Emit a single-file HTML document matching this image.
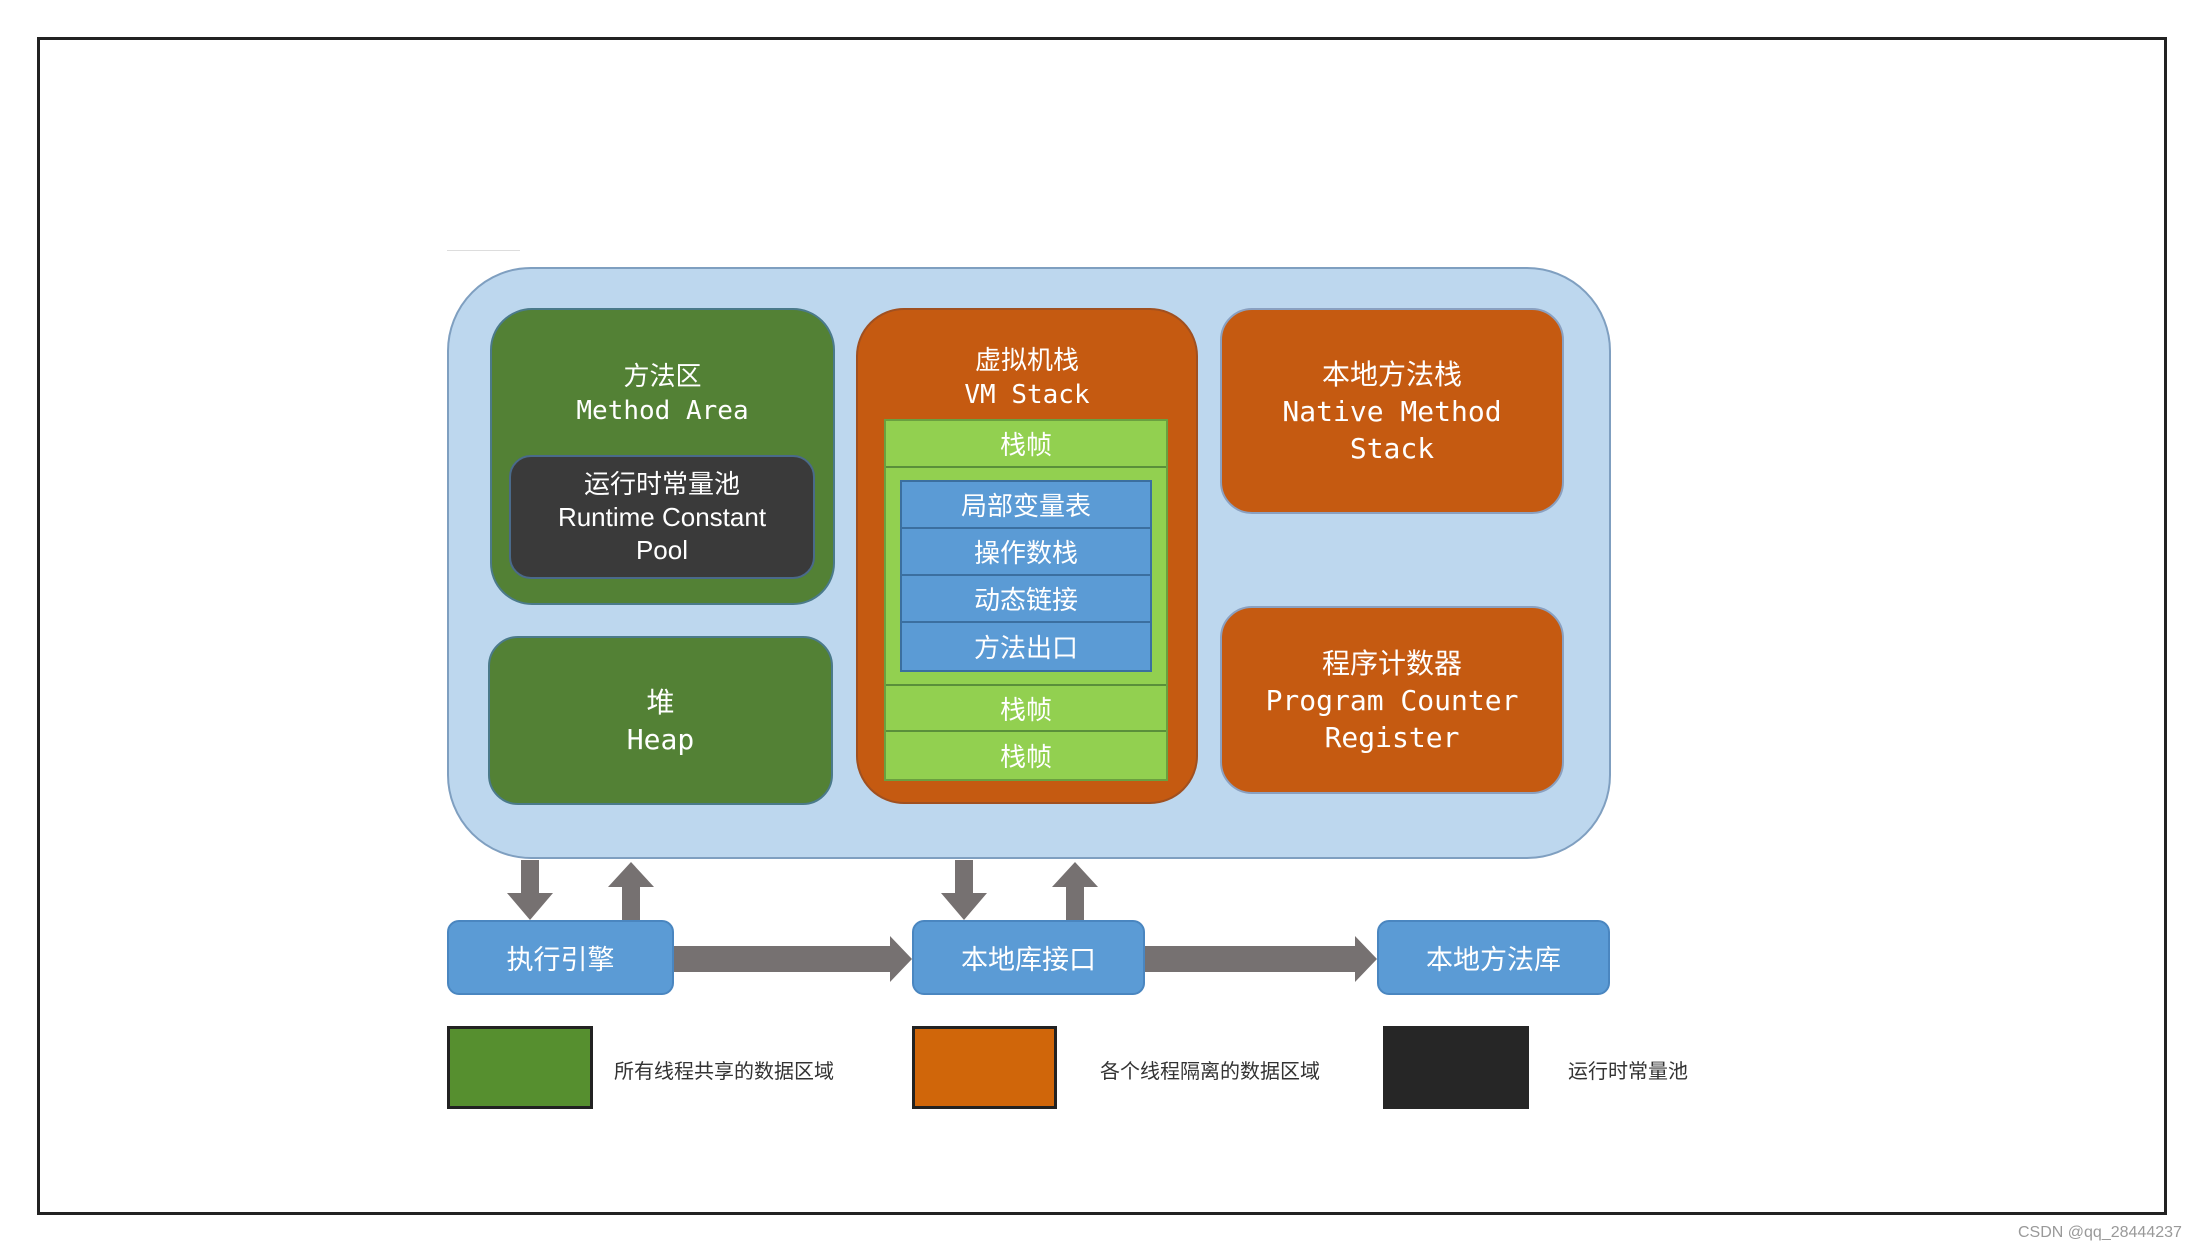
<!DOCTYPE html>
<html><head><meta charset="utf-8"><style>
body{margin:0;width:2203px;height:1252px;background:#fff;position:relative;overflow:hidden;font-family:"Liberation Sans","Noto Sans CJK SC",sans-serif}
div{position:absolute;box-sizing:border-box}
.c{display:flex;align-items:center;justify-content:center;text-align:center;color:#fff;flex-direction:column}
.m{font-family:"DejaVu Sans Mono","Liberation Mono","Noto Sans CJK SC",monospace}
.row{left:0;width:100%;height:47px;border-bottom:2px solid #5a8f3a;font-size:26px}
.brow{left:0;width:100%;height:47px;border-bottom:2px solid #3b6fa0;font-size:26px}
.lt{font-size:20px;color:#333}
</style></head><body>
<div style="left:37px;top:37px;width:2130px;height:1178px;border:3px solid #222"></div>
<div style="left:447px;top:250px;width:73px;height:1px;background:#ddd"></div>
<div style="left:447px;top:267px;width:1164px;height:592px;background:#bdd7ee;border:2px solid #7f9fc0;border-radius:84px"></div>

<div class="c m" style="left:490px;top:308px;width:345px;height:297px;background:#538135;border:2px solid #4b7a8a;border-radius:42px;justify-content:flex-start;padding-top:50px;font-size:26px;line-height:34px">方法区<br>Method Area</div>
<div class="c" style="left:509px;top:455px;width:306px;height:124px;background:#3a3a3a;border:2px solid #4a6a8a;border-radius:22px;font-size:26px;line-height:33px">运行时常量池<br>Runtime Constant<br>Pool</div>

<div class="c m" style="left:488px;top:636px;width:345px;height:169px;background:#538135;border:2px solid #4b7a8a;border-radius:30px;font-size:28px;line-height:37px">堆<br>Heap</div>

<div class="c m" style="left:856px;top:308px;width:342px;height:496px;background:#c55a11;border:2px solid #a05020;border-radius:48px;justify-content:flex-start;padding-top:34px;font-size:26px;line-height:34px">虚拟机栈<br>VM Stack</div>
<div style="left:884px;top:419px;width:284px;height:362px;background:#92d050;border:2px solid #6aa040">
 <div class="c row" style="top:0">栈帧</div>
 <div style="left:14px;top:59px;width:252px;height:192px;background:#5b9bd5;border:2px solid #3b6fa0">
  <div class="c brow" style="top:0">局部变量表</div>
  <div class="c brow" style="top:47px">操作数栈</div>
  <div class="c brow" style="top:94px">动态链接</div>
  <div class="c brow" style="top:141px;border:none">方法出口</div>
 </div>
 <div class="c row" style="top:263px;border-top:2px solid #5a8f3a;height:48px">栈帧</div>
 <div class="c row" style="top:311px;border:none">栈帧</div>
</div>

<div class="c m" style="left:1220px;top:308px;width:344px;height:206px;background:#c55a11;border:2px solid #8aa0c0;border-radius:32px;font-size:28px;line-height:37px">本地方法栈<br>Native Method<br>Stack</div>
<div class="c m" style="left:1220px;top:606px;width:344px;height:188px;background:#c55a11;border:2px solid #8aa0c0;border-radius:32px;font-size:28px;line-height:37px">程序计数器<br>Program Counter<br>Register</div>

<svg style="position:absolute;left:0;top:0" width="2203" height="1252">
<g fill="#767171">
<polygon points="521,860 539,860 539,893 553,893 530,920 507,893 521,893"/>
<polygon points="622,920 640,920 640,887 654,887 631,862 608,887 622,887"/>
<polygon points="955,860 973,860 973,893 987,893 964,920 941,893 955,893"/>
<polygon points="1066,920 1084,920 1084,887 1098,887 1075,862 1052,887 1066,887"/>
<polygon points="674,946 890,946 890,936 912,959 890,982 890,972 674,972"/>
<polygon points="1145,946 1355,946 1355,936 1377,959 1355,982 1355,972 1145,972"/>
</g></svg>

<div class="c" style="left:447px;top:920px;width:227px;height:75px;background:#5b9bd5;border:2px solid #4a86c0;border-radius:12px;font-size:27px">执行引擎</div>
<div class="c" style="left:912px;top:920px;width:233px;height:75px;background:#5b9bd5;border:2px solid #4a86c0;border-radius:12px;font-size:27px">本地库接口</div>
<div class="c" style="left:1377px;top:920px;width:233px;height:75px;background:#5b9bd5;border:2px solid #4a86c0;border-radius:12px;font-size:27px">本地方法库</div>

<div style="left:447px;top:1026px;width:146px;height:83px;background:#568f2f;border:3px solid #222"></div>
<div class="lt" style="left:614px;top:1055px">所有线程共享的数据区域</div>
<div style="left:912px;top:1026px;width:145px;height:83px;background:#d0660a;border:3px solid #222"></div>
<div class="lt" style="left:1100px;top:1055px">各个线程隔离的数据区域</div>
<div style="left:1383px;top:1026px;width:146px;height:83px;background:#262626"></div>
<div class="lt" style="left:1568px;top:1055px">运行时常量池</div>
<div style="left:2018px;top:1224px;font-size:16px;color:#999">CSDN @qq_28444237</div>
</body></html>
